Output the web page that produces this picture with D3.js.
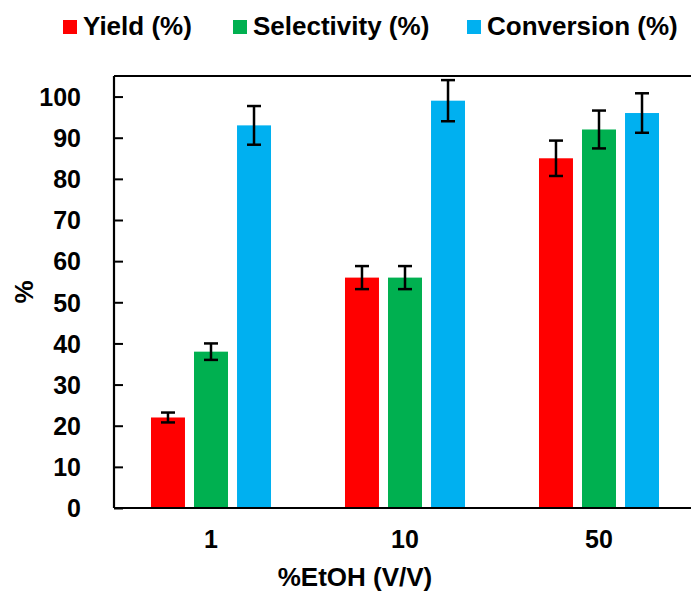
<!DOCTYPE html>
<html>
<head>
<meta charset="utf-8">
<script src="https://cdn.jsdelivr.net/npm/d3@7"></script>
<style>
  html, body { margin: 0; padding: 0; background: #fff; }
  svg { display: block; font-family: "Liberation Sans", Arial, sans-serif; font-weight: bold; }
</style>
</head>
<body>
<svg id="chart" width="691" height="593"></svg>
<script>
// EtOH concentration groups
const categories = ["1", "10", "50"];
const seriesNames = ["Yield (%)", "Selectivity (%)", "Conversion (%)"];
const seriesColors = ["#FF0000", "#00B050", "#00B0F0"];

// Mean values per series, one per group
const yieldValues = [22, 56, 85];
const selectivityValues = [38, 56, 92];
const conversionValues = [93, 99, 96];

// Error bar half-widths (±)
const yieldErrors = [1.2, 2.8, 4.3];
const selectivityErrors = [2.0, 2.8, 4.6];
const conversionErrors = [4.7, 5.0, 4.8];

const yTicks = [0, 10, 20, 30, 40, 50, 60, 70, 80, 90, 100];

const seriesValues = [yieldValues, selectivityValues, conversionValues];
const seriesErrors = [yieldErrors, selectivityErrors, conversionErrors];

const svg = d3.select("#chart");
const plot = { left: 114, right: 696, top: 76, bottom: 508 };

const x0 = d3.scaleBand().domain(categories).range([plot.left, plot.right]).padding(0);
const x1 = d3.scaleBand().domain(seriesNames).range([0, x0.bandwidth()])
  .paddingInner(0.21).paddingOuter(0.86);
const y = d3.scaleLinear().domain([0, 105]).range([plot.bottom, plot.top]);

// Flatten into rows for drawing
const rows = [];
categories.forEach((c, i) => {
  seriesNames.forEach((s, j) => {
    rows.push({ cat: c, series: s, color: seriesColors[j], value: seriesValues[j][i], err: seriesErrors[j][i] });
  });
});

// Bars
svg.append("g").selectAll("rect").data(rows).join("rect")
  .attr("x", d => x0(d.cat) + x1(d.series))
  .attr("y", d => y(d.value))
  .attr("width", x1.bandwidth())
  .attr("height", d => y(0) - y(d.value))
  .attr("fill", d => d.color);

// Error bars
const capHalf = 7;
const eb = svg.append("g").attr("stroke", "#000").attr("stroke-width", 2.5);
rows.forEach(d => {
  const cx = x0(d.cat) + x1(d.series) + x1.bandwidth() / 2;
  const yt = y(d.value + d.err), yb = y(d.value - d.err);
  eb.append("line").attr("x1", cx).attr("x2", cx).attr("y1", yt).attr("y2", yb);
  eb.append("line").attr("x1", cx - capHalf).attr("x2", cx + capHalf).attr("y1", yt).attr("y2", yt);
  eb.append("line").attr("x1", cx - capHalf).attr("x2", cx + capHalf).attr("y1", yb).attr("y2", yb);
});

// Frame: top line, left axis, bottom axis
const frame = svg.append("g").attr("stroke", "#000").attr("stroke-width", 2.2);
frame.append("line").attr("x1", plot.left).attr("x2", plot.right).attr("y1", plot.top).attr("y2", plot.top);
frame.append("line").attr("x1", plot.left).attr("x2", plot.right).attr("y1", plot.bottom).attr("y2", plot.bottom);

// Y axis with inward ticks
const yAxis = svg.append("g")
  .attr("transform", `translate(${plot.left},0)`)
  .call(d3.axisLeft(y).tickValues(yTicks).tickSizeInner(-9).tickSizeOuter(0).tickPadding(33));
yAxis.select(".domain").attr("stroke-width", 2.2).attr("d", `M0,${plot.top}V${plot.bottom}`);
yAxis.selectAll(".tick line").attr("stroke-width", 2);
yAxis.selectAll("text").attr("font-size", 25).attr("font-weight", "bold")
  .attr("font-family", "Liberation Sans, Arial, sans-serif").attr("fill", "#000").attr("dy", "0.35em");

// X axis labels (no tick marks)
const xAxis = svg.append("g")
  .attr("transform", `translate(0,${plot.bottom})`)
  .call(d3.axisBottom(x0).tickSize(0).tickPadding(40));
xAxis.select(".domain").remove();
xAxis.selectAll("text").attr("font-size", 25).attr("font-weight", "bold")
  .attr("font-family", "Liberation Sans, Arial, sans-serif").attr("fill", "#000").attr("dy", "0");

// Axis titles
svg.append("text").attr("x", 355).attr("y", 586).attr("text-anchor", "middle")
  .attr("font-size", 26).text("%EtOH (V/V)");
svg.append("text").attr("transform", "translate(33,292) rotate(-90)").attr("text-anchor", "middle")
  .attr("font-size", 26).text("%");

// Legend
const legendX = [63, 233, 467];
const legend = svg.append("g");
seriesNames.forEach((s, j) => {
  legend.append("rect").attr("x", legendX[j]).attr("y", 20).attr("width", 14).attr("height", 14)
    .attr("fill", seriesColors[j]);
  legend.append("text").attr("x", legendX[j] + 20).attr("y", 34.5).attr("font-size", 26).text(s);
});
</script>
</body>
</html>
